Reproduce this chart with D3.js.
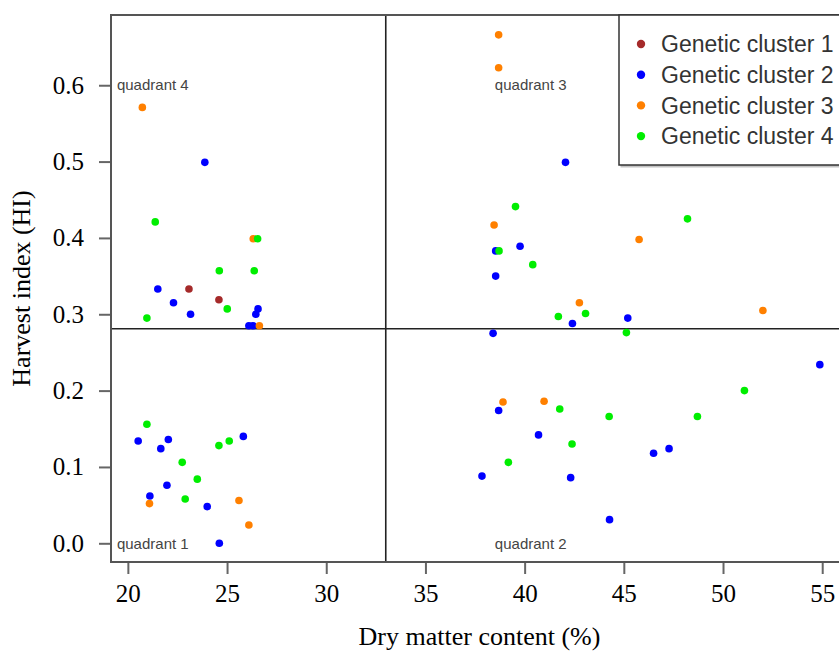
<!DOCTYPE html>
<html>
<head>
<meta charset="utf-8">
<script src="https://cdn.jsdelivr.net/npm/d3@7"></script>
<style>
  body { margin: 0; background: #fff; }
  svg { display: block; }
</style>
</head>
<body>
<svg id="chart" width="839" height="652"></svg>
<script>
// datos
var clusterNames = ["Genetic cluster 1", "Genetic cluster 2", "Genetic cluster 3", "Genetic cluster 4"];
var clusterColors = ["#a52a2a", "#0000ff", "#ff8000", "#00ee00"];

var cluster1 = [[23.08, 0.333], [24.59, 0.319]];
var cluster2 = [
  [23.88, 0.499], [21.51, 0.333], [22.30, 0.315], [26.56, 0.307], [26.45, 0.300], [23.16, 0.300],
  [26.1, 0.285], [26.3, 0.285],
  [20.52, 0.134], [22.04, 0.136], [21.66, 0.124], [25.82, 0.140], [21.97, 0.076], [21.11, 0.062],
  [24.0, 0.048], [24.61, 0.0],
  [42.06, 0.499], [38.54, 0.383], [39.77, 0.389], [38.54, 0.350], [42.41, 0.288], [45.20, 0.295],
  [38.41, 0.275],
  [54.88, 0.234], [38.69, 0.174], [40.70, 0.142], [46.50, 0.118], [47.28, 0.124], [37.85, 0.088],
  [42.32, 0.086], [44.28, 0.031]
];
var cluster3 = [
  [20.73, 0.571], [26.32, 0.399], [26.63, 0.285],
  [21.09, 0.052], [25.60, 0.056], [26.10, 0.024],
  [38.69, 0.666], [38.69, 0.623], [38.46, 0.417], [45.77, 0.398], [42.76, 0.315], [52.01, 0.305],
  [38.91, 0.185], [40.98, 0.186]
];
var cluster4 = [
  [21.38, 0.421], [26.54, 0.399], [24.61, 0.357], [26.37, 0.357], [25.01, 0.307], [20.96, 0.295],
  [20.96, 0.156], [25.11, 0.134], [24.59, 0.128], [22.74, 0.106], [23.50, 0.084], [22.89, 0.058],
  [39.54, 0.441], [48.21, 0.425], [38.71, 0.383], [40.41, 0.365], [41.70, 0.297], [43.07, 0.301],
  [45.13, 0.276],
  [51.08, 0.200], [41.77, 0.176], [44.26, 0.166], [48.71, 0.166], [42.39, 0.130], [39.18, 0.106]
];
var clusters = [cluster1, cluster2, cluster3, cluster4];

var xTicks = [20, 25, 30, 35, 40, 45, 50, 55];
var yTicks = [0.0, 0.1, 0.2, 0.3, 0.4, 0.5, 0.6];
var quadrantNames = ["quadrant 4", "quadrant 3", "quadrant 1", "quadrant 2"];
var quadrantX = [19.45, 38.5, 19.45, 38.5];
var quadrantY = [0.6, 0.6, 0.0, 0.0];
var splitX = 33;
var splitY = 0.281;

var svg = d3.select("#chart");
var pLeft = 111, pTop = 15, pRight = 848, pBottom = 562;

var x = d3.scaleLinear().domain([19.15, 56.3]).range([pLeft, pRight]);
var y = d3.scaleLinear().domain([-0.0245, 0.692]).range([pBottom, pTop]);

svg.append("defs").append("clipPath").attr("id", "clip")
  .append("rect").attr("x", pLeft).attr("y", pTop).attr("width", pRight - pLeft).attr("height", pBottom - pTop);

// ejes
var xAxis = svg.append("g")
  .attr("transform", "translate(0," + pBottom + ")")
  .call(d3.axisBottom(x).tickValues(xTicks).tickSize(12).tickPadding(10).tickFormat(d3.format("d")));
var yAxis = svg.append("g")
  .attr("transform", "translate(" + pLeft + ",0)")
  .call(d3.axisLeft(y).tickValues(yTicks).tickSize(12).tickPadding(15).tickFormat(d3.format(".1f")));
[xAxis, yAxis].forEach(function (a) {
  a.select(".domain").remove();
  a.selectAll(".tick line").attr("stroke", "#666").attr("stroke-width", 2);
  a.selectAll(".tick text").attr("fill", "#000")
    .style("font-family", "'Liberation Serif', 'Times New Roman', serif").style("font-size", "25px");
});

// lineas de cuadrantes
var plot = svg.append("g").attr("clip-path", "url(#clip)");
plot.append("line")
  .attr("x1", x(splitX)).attr("x2", x(splitX)).attr("y1", pTop).attr("y2", pBottom)
  .attr("stroke", "#222").attr("stroke-width", 1.6);
plot.append("line")
  .attr("x1", pLeft).attr("x2", pRight).attr("y1", y(splitY)).attr("y2", y(splitY))
  .attr("stroke", "#222").attr("stroke-width", 1.6);

// etiquetas de cuadrante
plot.selectAll("text.quad")
  .data(quadrantNames)
  .enter().append("text")
  .attr("class", "quad")
  .attr("x", function (d, i) { return x(quadrantX[i]); })
  .attr("y", function (d, i) { return y(quadrantY[i]); })
  .attr("dy", "0.35em")
  .attr("fill", "#444")
  .style("font-family", "'Liberation Sans', Arial, sans-serif")
  .style("font-size", "15px")
  .text(function (d) { return d; });

// puntos
clusters.forEach(function (pts, k) {
  plot.selectAll("circle.c" + k)
    .data(pts)
    .enter().append("circle")
    .attr("class", "c" + k)
    .attr("cx", function (d) { return x(d[0]); })
    .attr("cy", function (d) { return y(d[1]); })
    .attr("r", 3.8)
    .attr("fill", clusterColors[k]);
});

// marco
svg.append("rect")
  .attr("x", pLeft).attr("y", pTop).attr("width", pRight - pLeft).attr("height", pBottom - pTop)
  .attr("fill", "none").attr("stroke", "#555").attr("stroke-width", 2);

// leyenda
var legend = svg.append("g").attr("transform", "translate(619,15)");
legend.append("rect")
  .attr("x", 1.5).attr("y", 1.5).attr("width", 260).attr("height", 151)
  .attr("fill", "#999").attr("opacity", 0.6);
legend.append("rect")
  .attr("x", 0).attr("y", 0).attr("width", 260).attr("height", 150)
  .attr("fill", "#fff").attr("stroke", "#333").attr("stroke-width", 1.5);
var items = legend.selectAll("g.item")
  .data(clusterNames)
  .enter().append("g")
  .attr("class", "item")
  .attr("transform", function (d, i) { return "translate(0," + (29 + i * 30.7) + ")"; });
items.append("circle").attr("cx", 22).attr("cy", 0).attr("r", 4.2)
  .attr("fill", function (d, i) { return clusterColors[i]; });
items.append("text").attr("x", 42).attr("y", 0).attr("dy", "0.36em")
  .attr("fill", "#333")
  .style("font-family", "'Liberation Sans', Arial, sans-serif")
  .style("font-size", "23px")
  .text(function (d) { return d; });

// titulos
svg.append("text")
  .attr("x", (pLeft + pRight) / 2).attr("y", 645)
  .attr("text-anchor", "middle")
  .style("font-family", "'Liberation Serif', 'Times New Roman', serif")
  .style("font-size", "26px")
  .text("Dry matter content (%)");
svg.append("text")
  .attr("transform", "translate(30," + ((pTop + pBottom) / 2) + ") rotate(-90)")
  .attr("text-anchor", "middle")
  .style("font-family", "'Liberation Serif', 'Times New Roman', serif")
  .style("font-size", "26px")
  .text("Harvest index (HI)");
</script>
</body>
</html>
